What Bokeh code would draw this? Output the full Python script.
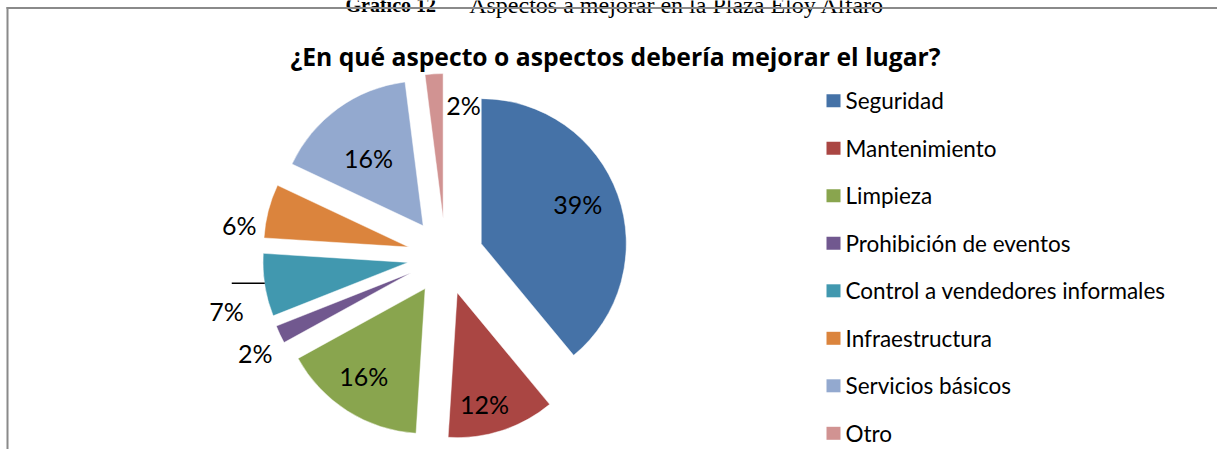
import math
from bokeh.plotting import figure
from bokeh.models import Range1d, ColumnDataSource
from bokeh.core.properties import value
from bokeh.embed import file_html
from bokeh.resources import INLINE

# ---------------- data ----------------
categories = ["Seguridad", "Mantenimiento", "Limpieza", "Prohibición de eventos",
              "Control a vendedores informales", "Infraestructura",
              "Servicios básicos", "Otro"]
percent = [39, 12, 16, 2, 7, 6, 16, 2]
colors = ["#4572A7", "#AA4643", "#89A54E", "#71588F",
          "#4198AF", "#DB843D", "#93A9CF", "#D19392"]
chart_title = "¿En qué aspecto o aspectos debería mejorar el lugar?"
caption_bold = "Gráfico 12"
caption_rest = "– Aspectos a mejorar en la Plaza Eloy Alfaro"

# label placement style (radius factor, angular nudge in degrees)
label_rf = [0.98, 1.055, 1.00, 1.47, 1.556, 1.44, 0.865, 1.055]
label_da = [1.7, -3.2, -1.9, 1.6, 4.9, 5.6, 1.9, -10.4]

# ---------------- layout ----------------
W, H = 1217, 449
p = figure(width=W, height=H,
           x_range=Range1d(0, W), y_range=Range1d(-H, 0),
           output_backend="svg", toolbar_location=None, min_border=0,
           x_axis_location=None, y_axis_location=None)
p.grid.visible = False
p.outline_line_color = None
p.background_fill_color = "white"

FONT = "Lato"
cx, cy, R, explode = 445.0, -256.0, 145.0, 38.0

total = float(sum(percent))
xs, ys, starts, ends, bis = [], [], [], [], []
cum = 0.0
for v in percent:
    a0 = 90.0 - 360.0 * cum / total
    cum += v
    a1 = 90.0 - 360.0 * cum / total
    b = (a0 + a1) / 2.0
    xs.append(cx + explode * math.cos(math.radians(b)))
    ys.append(cy + explode * math.sin(math.radians(b)))
    starts.append(a1)
    ends.append(a0)
    bis.append(b)

src = ColumnDataSource(dict(x=xs, y=ys, start=starts, end=ends, color=colors,
                            cat=categories))
p.wedge(x="x", y="y", radius=R, start_angle="start", end_angle="end",
        start_angle_units="deg", end_angle_units="deg",
        direction="anticlock", fill_color="color",
        line_color="white", line_width=0.8, line_alpha=0.6, source=src)

# data labels
lx, ly, lt = [], [], []
for i, v in enumerate(percent):
    a = math.radians(bis[i] + label_da[i])
    lx.append(cx + label_rf[i] * R * math.cos(a))
    ly.append(cy + label_rf[i] * R * math.sin(a))
    lt.append(f"{v}%")
p.text(x=lx, y=ly, text=lt, text_font=value(FONT), text_font_size="25px",
       text_color="black", text_align="center", text_baseline="middle")

# leader line for the "Control a vendedores informales" label
ci = 4
ex = xs[ci] + R * math.cos(math.radians(bis[ci]))
ey = ys[ci] + R * math.sin(math.radians(bis[ci]))
p.segment(x0=[ex - 33], y0=[ey + 2], x1=[ex], y1=[ey + 2],
          line_color="black", line_width=1.5)

# title
p.text(x=[615], y=[-56.3], text=[chart_title], text_font=value("Open Sans"),
       text_font_size="24.7px", text_font_style="bold", text_color="black",
       text_align="center", text_baseline="alphabetic")

# document caption above the chart (cut by the page top)
p.text(x=[345], y=[-4], text=[caption_bold], text_font=value("Liberation Serif"),
       text_font_size="20px", text_font_style="bold", text_color="black",
       text_align="left", text_baseline="alphabetic")
p.text(x=[452], y=[-4], text=[caption_rest], text_font=value("Liberation Serif"),
       text_font_size="24px", text_color="black",
       text_align="left", text_baseline="alphabetic")

# legend
leg_top, leg_step = -100.3, -47.5
leg_y = [leg_top + i * leg_step for i in range(len(categories))]
p.rect(x=[833] * len(categories), y=leg_y, width=14, height=13,
       fill_color=colors, line_color=None)
p.text(x=[845] * len(categories), y=leg_y, text=categories,
       text_font=value(FONT), text_font_size="22.5px", text_color="black",
       text_align="left", text_baseline="middle")

# chart area border (top and left edges visible)
p.segment(x0=[6, 7], y0=[-7.5, -6.5], x1=[W, 7], y1=[-7.5, -H],
          line_color="#8a8a8a", line_width=2)

open("out.html", "w").write(file_html(p, INLINE))
